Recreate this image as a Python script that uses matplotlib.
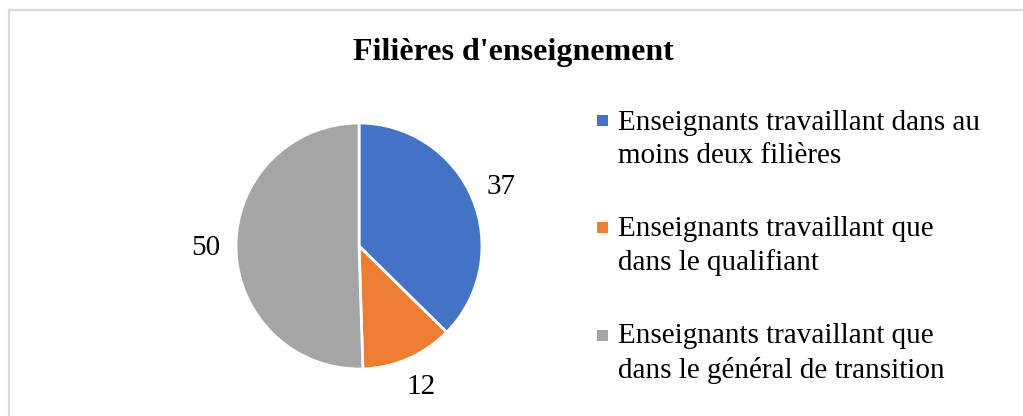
import matplotlib
matplotlib.use("Agg")
import matplotlib.pyplot as plt
from matplotlib.patches import Rectangle

title = "Filières d'enseignement"
categories = [
    "Enseignants travaillant dans au\nmoins deux filières",
    "Enseignants travaillant que\ndans le qualifiant",
    "Enseignants travaillant que\ndans le général de transition",
]
values = [37, 12, 50]
colors = ["#4472C4", "#ED7D31", "#A5A5A5"]

plt.rcParams['font.family'] = ['Liberation Serif', 'DejaVu Serif']

W, H = 1023, 416
fig = plt.figure(figsize=(W / 100, H / 100), dpi=100)

# chart border (only top and left visible in the crop)
fig.add_artist(Rectangle((8.5 / W, -0.1), 1.2, 1 - 9.5 / H + 0.1, transform=fig.transFigure,
                         fill=False, edgecolor="#D9D9D9", linewidth=1.6))

cx, cy, r = 359, 246, 123
ax = fig.add_axes([(cx - r) / W, (H - cy - r) / H, 2 * r / W, 2 * r / H])
wedges, texts = ax.pie(values, colors=colors, startangle=90, counterclock=False,
                       labels=[str(v) for v in values], labeldistance=1.25,
                       wedgeprops=dict(edgecolor="white", linewidth=2),
                       textprops=dict(fontsize=21, color="#000000"))
for t in texts:
    t.set_horizontalalignment("center")
    t.set_verticalalignment("center")
ax.set_xlim(-1, 1)
ax.set_ylim(-1, 1)
ax.set_aspect("equal")
ax.axis("off")

fig.text(513 / W, 1 - 60 / H, title, ha="center", va="baseline",
         fontsize=23, fontweight="bold")

# legend drawn as entries: square marker aligned to first text line
base0, pitch, line_h = 129, 107.5, 34
for i, (lab, c) in enumerate(zip(categories, colors)):
    yb = base0 + i * pitch
    fig.add_artist(Rectangle((597 / W, 1 - (yb - 3.5) / H), 11 / W, 11 / H,
                             transform=fig.transFigure, facecolor=c, edgecolor="none"))
    fig.text(618 / W, 1 - (yb + line_h) / H, lab, ha="left", va="baseline",
             fontsize=21, linespacing=1.36)

fig.savefig("out.png", dpi=100)
